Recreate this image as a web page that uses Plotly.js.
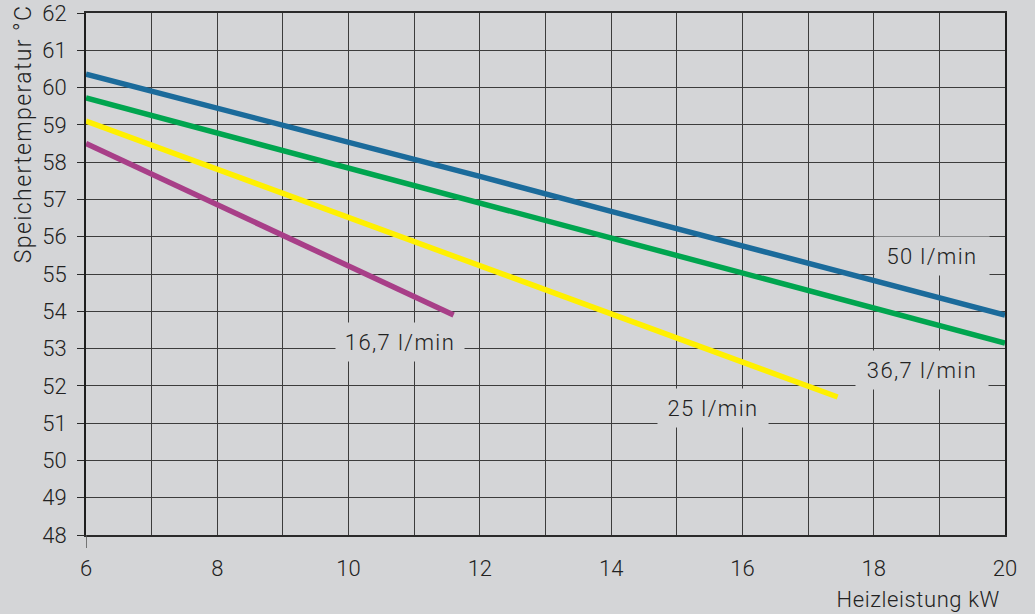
<!DOCTYPE html>
<html>
<head>
<meta charset="utf-8">
<script src="https://cdn.plot.ly/plotly-3.0.1.min.js"></script>
<style>
html,body{margin:0;padding:0;background:#d4d5d7;}
#chart{width:1035px;height:614px;}
#chart .annotation-text{letter-spacing:1.4px;}
#chart g.annotation[data-index="4"] .annotation-text{letter-spacing:0.6px;}
</style>
</head>
<body>
<div id="chart"></div>
<script>
// Data
const x50 = [6, 8, 10, 12, 14, 16, 18, 20];
const y50 = [60.36, 59.45, 58.52, 57.62, 56.68, 55.75, 54.82, 53.9];
const x367 = [6, 8, 10, 12, 14, 16, 18, 20];
const y367 = [59.72, 58.78, 57.84, 56.9, 55.97, 55.03, 54.09, 53.15];
const x25 = [6, 8, 10, 12, 14, 16, 17.45];
const y25 = [59.1, 57.81, 56.52, 55.22, 53.93, 52.64, 51.7];
const x167 = [6, 8, 10, 11.6];
const y167 = [58.5, 56.86, 55.21, 53.9];

const seriesNames = ['50 l/min', '36,7 l/min', '25 l/min', '16,7 l/min'];
const seriesColors = ['#1b6b9b', '#00a54f', '#fff000', '#a83f88'];
const labelX = [18.89, 18.74, 15.55, 10.78];
const labelY = [55.48, 52.43, 51.41, 53.17];
const labelW = [112, 130, 108, 126];

const xTitle = 'Heizleistung kW';
const yTitle = 'Speichertemperatur °C';

const bg = '#d4d5d7';
const font = 'Roboto, sans-serif';
const txt = '#222222';

const xs = [x50, x367, x25, x167];
const ys = [y50, y367, y25, y167];

const traces = xs.map((x, i) => ({
  x: x, y: ys[i], type: 'scatter', mode: 'lines', name: seriesNames[i],
  line: {color: seriesColors[i], width: 5.5}, hoverinfo: 'skip'
}));

const annotations = seriesNames.map((n, i) => ({
  x: labelX[i], y: labelY[i], xref: 'x', yref: 'y', text: n, showarrow: false,
  font: {family: font, size: 22, color: txt, weight: 300},
  bgcolor: bg, width: labelW[i], height: 36, xanchor: 'center', yanchor: 'middle'
}));

annotations.push({
  x: 1, y: 0, xref: 'paper', yref: 'paper', xanchor: 'right', yanchor: 'top',
  yshift: -50, xshift: -7, text: xTitle, showarrow: false,
  font: {family: font, size: 22, color: txt, weight: 300}
});
annotations.push({
  x: 0, y: 1, xref: 'paper', yref: 'paper', xanchor: 'center', yanchor: 'top',
  xshift: -63, yshift: -5, text: yTitle, showarrow: false, textangle: -90,
  font: {family: font, size: 23, color: txt, weight: 300}
});

const layout = {
  width: 1035, height: 614,
  paper_bgcolor: bg, plot_bgcolor: bg,
  margin: {l: 86, r: 30, t: 13, b: 79},
  showlegend: false,
  font: {family: font, size: 22, color: txt, weight: 300},
  xaxis: {
    range: [6, 20], dtick: 2, tick0: 6, showgrid: true, gridcolor: '#3c3c3c', gridwidth: 1,
    minor: {dtick: 1, showgrid: true, gridcolor: '#3c3c3c', gridwidth: 1},
    showline: true, linecolor: '#2a2a2a', linewidth: 1.6, mirror: true,
    ticks: '', ticklabelstandoff: 13, zeroline: false,
    tickfont: {family: font, size: 22, color: txt, weight: 300}
  },
  yaxis: {
    range: [48, 62], dtick: 1, tick0: 48, showgrid: true, gridcolor: '#3c3c3c', gridwidth: 1,
    showline: true, linecolor: '#1e1e1e', linewidth: 2, mirror: true,
    ticks: 'outside', ticklen: 7, tickcolor: '#2a2a2a', tickwidth: 1, ticklabelstandoff: 6,
    zeroline: false,
    tickfont: {family: font, size: 22, color: txt, weight: 300}
  },
  shapes: [{
    type: 'line', xref: 'x', yref: 'paper', x0: 6, x1: 6, y0: 0, y1: -0.025,
    line: {color: '#555555', width: 1.5}
  }],
  annotations: annotations
};

Plotly.newPlot('chart', traces, layout, {staticPlot: true});
</script>
</body>
</html>
